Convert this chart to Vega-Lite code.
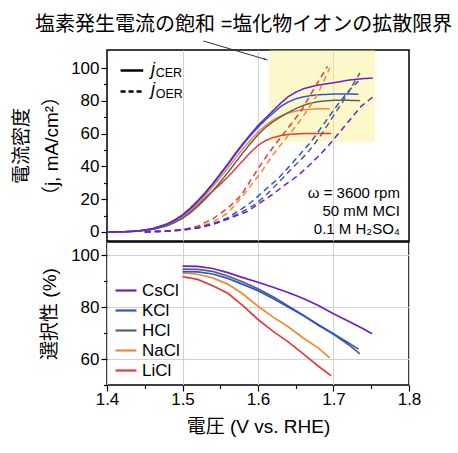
{
  "$schema": "https://vega.github.io/schema/vega-lite/v6.json",
  "padding": {"left": 11, "top": 14, "right": 5, "bottom": 5},
  "title": {
    "text": "塩素発生電流の飽和 =塩化物イオンの拡散限界",
    "fontSize": 20,
    "fontWeight": "normal",
    "color": "#000",
    "anchor": "middle",
    "dx": 27,
    "offset": 5
  },
  "config": {
    "font": "Liberation Sans, Noto Sans CJK JP, sans-serif",
    "view": {"stroke": "#000", "strokeWidth": 1.5},
    "axis": {
      "domain": false,
      "gridColor": "#d2d2d2",
      "gridWidth": 1,
      "tickColor": "#000",
      "tickWidth": 1.2,
      "labelColor": "#000",
      "labelFontSize": 17,
      "labelOverlap": false,
      "titleColor": "#000",
      "titleFontSize": 19,
      "titleFontWeight": "normal"
    },
    "legend": {"labelColor": "#000"}
  },
  "datasets": {
    "current": [
      {"salt": "LiCl", "type": "CER", "V": 1.40, "j": 0},
      {"salt": "LiCl", "type": "CER", "V": 1.42, "j": 0.1},
      {"salt": "LiCl", "type": "CER", "V": 1.44, "j": 0.5},
      {"salt": "LiCl", "type": "CER", "V": 1.46, "j": 1.7},
      {"salt": "LiCl", "type": "CER", "V": 1.48, "j": 4.3},
      {"salt": "LiCl", "type": "CER", "V": 1.49, "j": 6.4},
      {"salt": "LiCl", "type": "CER", "V": 1.50, "j": 9},
      {"salt": "LiCl", "type": "CER", "V": 1.51, "j": 12.5},
      {"salt": "LiCl", "type": "CER", "V": 1.52, "j": 16.5},
      {"salt": "LiCl", "type": "CER", "V": 1.53, "j": 20.8},
      {"salt": "LiCl", "type": "CER", "V": 1.54, "j": 25},
      {"salt": "LiCl", "type": "CER", "V": 1.55, "j": 29},
      {"salt": "LiCl", "type": "CER", "V": 1.56, "j": 33.5},
      {"salt": "LiCl", "type": "CER", "V": 1.57, "j": 38.5},
      {"salt": "LiCl", "type": "CER", "V": 1.58, "j": 43.5},
      {"salt": "LiCl", "type": "CER", "V": 1.59, "j": 48.5},
      {"salt": "LiCl", "type": "CER", "V": 1.60, "j": 52.8},
      {"salt": "LiCl", "type": "CER", "V": 1.61, "j": 55.8},
      {"salt": "LiCl", "type": "CER", "V": 1.62, "j": 57.6},
      {"salt": "LiCl", "type": "CER", "V": 1.63, "j": 58.8},
      {"salt": "LiCl", "type": "CER", "V": 1.64, "j": 59.5},
      {"salt": "LiCl", "type": "CER", "V": 1.65, "j": 59.8},
      {"salt": "LiCl", "type": "CER", "V": 1.66, "j": 60},
      {"salt": "LiCl", "type": "CER", "V": 1.68, "j": 60.1},
      {"salt": "LiCl", "type": "CER", "V": 1.697, "j": 60},
      {"salt": "NaCl", "type": "CER", "V": 1.40, "j": 0},
      {"salt": "NaCl", "type": "CER", "V": 1.42, "j": 0.1},
      {"salt": "NaCl", "type": "CER", "V": 1.44, "j": 0.5},
      {"salt": "NaCl", "type": "CER", "V": 1.46, "j": 1.8},
      {"salt": "NaCl", "type": "CER", "V": 1.48, "j": 4.5},
      {"salt": "NaCl", "type": "CER", "V": 1.49, "j": 6.8},
      {"salt": "NaCl", "type": "CER", "V": 1.50, "j": 9.5},
      {"salt": "NaCl", "type": "CER", "V": 1.51, "j": 13.2},
      {"salt": "NaCl", "type": "CER", "V": 1.52, "j": 17.5},
      {"salt": "NaCl", "type": "CER", "V": 1.53, "j": 22.3},
      {"salt": "NaCl", "type": "CER", "V": 1.54, "j": 27.5},
      {"salt": "NaCl", "type": "CER", "V": 1.55, "j": 33.2},
      {"salt": "NaCl", "type": "CER", "V": 1.56, "j": 39},
      {"salt": "NaCl", "type": "CER", "V": 1.57, "j": 45},
      {"salt": "NaCl", "type": "CER", "V": 1.58, "j": 50.8},
      {"salt": "NaCl", "type": "CER", "V": 1.59, "j": 56},
      {"salt": "NaCl", "type": "CER", "V": 1.60, "j": 61},
      {"salt": "NaCl", "type": "CER", "V": 1.61, "j": 65},
      {"salt": "NaCl", "type": "CER", "V": 1.62, "j": 68.3},
      {"salt": "NaCl", "type": "CER", "V": 1.63, "j": 70.8},
      {"salt": "NaCl", "type": "CER", "V": 1.64, "j": 72.6},
      {"salt": "NaCl", "type": "CER", "V": 1.65, "j": 73.8},
      {"salt": "NaCl", "type": "CER", "V": 1.66, "j": 74.5},
      {"salt": "NaCl", "type": "CER", "V": 1.67, "j": 74.9},
      {"salt": "NaCl", "type": "CER", "V": 1.68, "j": 75.1},
      {"salt": "NaCl", "type": "CER", "V": 1.695, "j": 75.1},
      {"salt": "HCl", "type": "CER", "V": 1.40, "j": 0},
      {"salt": "HCl", "type": "CER", "V": 1.42, "j": 0.1},
      {"salt": "HCl", "type": "CER", "V": 1.44, "j": 0.4},
      {"salt": "HCl", "type": "CER", "V": 1.46, "j": 1.5},
      {"salt": "HCl", "type": "CER", "V": 1.48, "j": 3.8},
      {"salt": "HCl", "type": "CER", "V": 1.49, "j": 5.8},
      {"salt": "HCl", "type": "CER", "V": 1.50, "j": 8.3},
      {"salt": "HCl", "type": "CER", "V": 1.51, "j": 11.5},
      {"salt": "HCl", "type": "CER", "V": 1.52, "j": 15.5},
      {"salt": "HCl", "type": "CER", "V": 1.53, "j": 20},
      {"salt": "HCl", "type": "CER", "V": 1.54, "j": 25},
      {"salt": "HCl", "type": "CER", "V": 1.55, "j": 30.5},
      {"salt": "HCl", "type": "CER", "V": 1.56, "j": 36.3},
      {"salt": "HCl", "type": "CER", "V": 1.57, "j": 42.3},
      {"salt": "HCl", "type": "CER", "V": 1.58, "j": 48.3},
      {"salt": "HCl", "type": "CER", "V": 1.59, "j": 54},
      {"salt": "HCl", "type": "CER", "V": 1.60, "j": 59.3},
      {"salt": "HCl", "type": "CER", "V": 1.61, "j": 63.8},
      {"salt": "HCl", "type": "CER", "V": 1.62, "j": 67.3},
      {"salt": "HCl", "type": "CER", "V": 1.63, "j": 70.2},
      {"salt": "HCl", "type": "CER", "V": 1.64, "j": 72.9},
      {"salt": "HCl", "type": "CER", "V": 1.65, "j": 75.2},
      {"salt": "HCl", "type": "CER", "V": 1.66, "j": 77.2},
      {"salt": "HCl", "type": "CER", "V": 1.67, "j": 78.6},
      {"salt": "HCl", "type": "CER", "V": 1.68, "j": 79.5},
      {"salt": "HCl", "type": "CER", "V": 1.69, "j": 80},
      {"salt": "HCl", "type": "CER", "V": 1.70, "j": 80.3},
      {"salt": "HCl", "type": "CER", "V": 1.72, "j": 80.3},
      {"salt": "HCl", "type": "CER", "V": 1.735, "j": 80.1},
      {"salt": "KCl", "type": "CER", "V": 1.40, "j": 0},
      {"salt": "KCl", "type": "CER", "V": 1.42, "j": 0.1},
      {"salt": "KCl", "type": "CER", "V": 1.44, "j": 0.5},
      {"salt": "KCl", "type": "CER", "V": 1.46, "j": 1.9},
      {"salt": "KCl", "type": "CER", "V": 1.48, "j": 4.8},
      {"salt": "KCl", "type": "CER", "V": 1.49, "j": 7.2},
      {"salt": "KCl", "type": "CER", "V": 1.50, "j": 10.1},
      {"salt": "KCl", "type": "CER", "V": 1.51, "j": 14},
      {"salt": "KCl", "type": "CER", "V": 1.52, "j": 18.5},
      {"salt": "KCl", "type": "CER", "V": 1.53, "j": 23.5},
      {"salt": "KCl", "type": "CER", "V": 1.54, "j": 29},
      {"salt": "KCl", "type": "CER", "V": 1.55, "j": 35},
      {"salt": "KCl", "type": "CER", "V": 1.56, "j": 41},
      {"salt": "KCl", "type": "CER", "V": 1.57, "j": 47.3},
      {"salt": "KCl", "type": "CER", "V": 1.58, "j": 53.3},
      {"salt": "KCl", "type": "CER", "V": 1.59, "j": 58.8},
      {"salt": "KCl", "type": "CER", "V": 1.60, "j": 63.8},
      {"salt": "KCl", "type": "CER", "V": 1.61, "j": 68.5},
      {"salt": "KCl", "type": "CER", "V": 1.62, "j": 72.5},
      {"salt": "KCl", "type": "CER", "V": 1.63, "j": 76.5},
      {"salt": "KCl", "type": "CER", "V": 1.64, "j": 79.3},
      {"salt": "KCl", "type": "CER", "V": 1.65, "j": 81.2},
      {"salt": "KCl", "type": "CER", "V": 1.66, "j": 82.4},
      {"salt": "KCl", "type": "CER", "V": 1.67, "j": 83.2},
      {"salt": "KCl", "type": "CER", "V": 1.68, "j": 83.7},
      {"salt": "KCl", "type": "CER", "V": 1.70, "j": 84.1},
      {"salt": "KCl", "type": "CER", "V": 1.72, "j": 84.2},
      {"salt": "KCl", "type": "CER", "V": 1.733, "j": 84},
      {"salt": "CsCl", "type": "CER", "V": 1.40, "j": 0},
      {"salt": "CsCl", "type": "CER", "V": 1.42, "j": 0.1},
      {"salt": "CsCl", "type": "CER", "V": 1.44, "j": 0.6},
      {"salt": "CsCl", "type": "CER", "V": 1.46, "j": 2},
      {"salt": "CsCl", "type": "CER", "V": 1.48, "j": 5},
      {"salt": "CsCl", "type": "CER", "V": 1.49, "j": 7.5},
      {"salt": "CsCl", "type": "CER", "V": 1.50, "j": 10.5},
      {"salt": "CsCl", "type": "CER", "V": 1.51, "j": 14.5},
      {"salt": "CsCl", "type": "CER", "V": 1.52, "j": 19},
      {"salt": "CsCl", "type": "CER", "V": 1.53, "j": 24},
      {"salt": "CsCl", "type": "CER", "V": 1.54, "j": 29.5},
      {"salt": "CsCl", "type": "CER", "V": 1.55, "j": 35.5},
      {"salt": "CsCl", "type": "CER", "V": 1.56, "j": 41.5},
      {"salt": "CsCl", "type": "CER", "V": 1.57, "j": 48},
      {"salt": "CsCl", "type": "CER", "V": 1.58, "j": 54},
      {"salt": "CsCl", "type": "CER", "V": 1.59, "j": 59.5},
      {"salt": "CsCl", "type": "CER", "V": 1.60, "j": 65},
      {"salt": "CsCl", "type": "CER", "V": 1.61, "j": 69.5},
      {"salt": "CsCl", "type": "CER", "V": 1.62, "j": 74},
      {"salt": "CsCl", "type": "CER", "V": 1.63, "j": 78.5},
      {"salt": "CsCl", "type": "CER", "V": 1.64, "j": 82.5},
      {"salt": "CsCl", "type": "CER", "V": 1.65, "j": 85.3},
      {"salt": "CsCl", "type": "CER", "V": 1.66, "j": 87.3},
      {"salt": "CsCl", "type": "CER", "V": 1.67, "j": 88.6},
      {"salt": "CsCl", "type": "CER", "V": 1.68, "j": 89.6},
      {"salt": "CsCl", "type": "CER", "V": 1.69, "j": 90.3},
      {"salt": "CsCl", "type": "CER", "V": 1.70, "j": 91},
      {"salt": "CsCl", "type": "CER", "V": 1.72, "j": 92.6},
      {"salt": "CsCl", "type": "CER", "V": 1.74, "j": 93.6},
      {"salt": "CsCl", "type": "CER", "V": 1.752, "j": 93.8},
      {"salt": "LiCl", "type": "OER", "V": 1.45, "j": 0},
      {"salt": "LiCl", "type": "OER", "V": 1.48, "j": 0.6},
      {"salt": "LiCl", "type": "OER", "V": 1.50, "j": 1.3},
      {"salt": "LiCl", "type": "OER", "V": 1.52, "j": 3.5},
      {"salt": "LiCl", "type": "OER", "V": 1.54, "j": 8},
      {"salt": "LiCl", "type": "OER", "V": 1.56, "j": 14.5},
      {"salt": "LiCl", "type": "OER", "V": 1.578, "j": 22.5},
      {"salt": "LiCl", "type": "OER", "V": 1.589, "j": 30.6},
      {"salt": "LiCl", "type": "OER", "V": 1.60, "j": 38.5},
      {"salt": "LiCl", "type": "OER", "V": 1.611, "j": 46},
      {"salt": "LiCl", "type": "OER", "V": 1.622, "j": 53},
      {"salt": "LiCl", "type": "OER", "V": 1.634, "j": 60},
      {"salt": "LiCl", "type": "OER", "V": 1.656, "j": 73},
      {"salt": "LiCl", "type": "OER", "V": 1.675, "j": 88},
      {"salt": "LiCl", "type": "OER", "V": 1.692, "j": 101},
      {"salt": "NaCl", "type": "OER", "V": 1.45, "j": 0},
      {"salt": "NaCl", "type": "OER", "V": 1.48, "j": 0.5},
      {"salt": "NaCl", "type": "OER", "V": 1.50, "j": 1.2},
      {"salt": "NaCl", "type": "OER", "V": 1.52, "j": 2.8},
      {"salt": "NaCl", "type": "OER", "V": 1.54, "j": 6},
      {"salt": "NaCl", "type": "OER", "V": 1.56, "j": 11.5},
      {"salt": "NaCl", "type": "OER", "V": 1.585, "j": 25},
      {"salt": "NaCl", "type": "OER", "V": 1.605, "j": 37},
      {"salt": "NaCl", "type": "OER", "V": 1.618, "j": 46},
      {"salt": "NaCl", "type": "OER", "V": 1.635, "j": 56},
      {"salt": "NaCl", "type": "OER", "V": 1.651, "j": 65},
      {"salt": "NaCl", "type": "OER", "V": 1.665, "j": 74},
      {"salt": "NaCl", "type": "OER", "V": 1.68, "j": 85},
      {"salt": "NaCl", "type": "OER", "V": 1.695, "j": 100},
      {"salt": "HCl", "type": "OER", "V": 1.45, "j": 0},
      {"salt": "HCl", "type": "OER", "V": 1.48, "j": 0.5},
      {"salt": "HCl", "type": "OER", "V": 1.50, "j": 1.1},
      {"salt": "HCl", "type": "OER", "V": 1.52, "j": 2.3},
      {"salt": "HCl", "type": "OER", "V": 1.54, "j": 4.5},
      {"salt": "HCl", "type": "OER", "V": 1.56, "j": 8},
      {"salt": "HCl", "type": "OER", "V": 1.58, "j": 12.5},
      {"salt": "HCl", "type": "OER", "V": 1.598, "j": 17.4},
      {"salt": "HCl", "type": "OER", "V": 1.614, "j": 24},
      {"salt": "HCl", "type": "OER", "V": 1.63, "j": 31.5},
      {"salt": "HCl", "type": "OER", "V": 1.645, "j": 38.8},
      {"salt": "HCl", "type": "OER", "V": 1.665, "j": 48},
      {"salt": "HCl", "type": "OER", "V": 1.682, "j": 58},
      {"salt": "HCl", "type": "OER", "V": 1.698, "j": 69.5},
      {"salt": "HCl", "type": "OER", "V": 1.713, "j": 80},
      {"salt": "HCl", "type": "OER", "V": 1.735, "j": 97},
      {"salt": "KCl", "type": "OER", "V": 1.45, "j": 0},
      {"salt": "KCl", "type": "OER", "V": 1.48, "j": 0.5},
      {"salt": "KCl", "type": "OER", "V": 1.50, "j": 1.2},
      {"salt": "KCl", "type": "OER", "V": 1.52, "j": 2.5},
      {"salt": "KCl", "type": "OER", "V": 1.54, "j": 5},
      {"salt": "KCl", "type": "OER", "V": 1.558, "j": 8.2},
      {"salt": "KCl", "type": "OER", "V": 1.578, "j": 14},
      {"salt": "KCl", "type": "OER", "V": 1.589, "j": 17.4},
      {"salt": "KCl", "type": "OER", "V": 1.609, "j": 25.5},
      {"salt": "KCl", "type": "OER", "V": 1.627, "j": 32.7},
      {"salt": "KCl", "type": "OER", "V": 1.638, "j": 38.3},
      {"salt": "KCl", "type": "OER", "V": 1.651, "j": 45},
      {"salt": "KCl", "type": "OER", "V": 1.671, "j": 55.5},
      {"salt": "KCl", "type": "OER", "V": 1.693, "j": 69.7},
      {"salt": "KCl", "type": "OER", "V": 1.706, "j": 77.9},
      {"salt": "KCl", "type": "OER", "V": 1.72, "j": 86},
      {"salt": "KCl", "type": "OER", "V": 1.733, "j": 92},
      {"salt": "CsCl", "type": "OER", "V": 1.45, "j": 0},
      {"salt": "CsCl", "type": "OER", "V": 1.48, "j": 0.6},
      {"salt": "CsCl", "type": "OER", "V": 1.50, "j": 1.5},
      {"salt": "CsCl", "type": "OER", "V": 1.525, "j": 3},
      {"salt": "CsCl", "type": "OER", "V": 1.55, "j": 6.2},
      {"salt": "CsCl", "type": "OER", "V": 1.585, "j": 12.3},
      {"salt": "CsCl", "type": "OER", "V": 1.618, "j": 22.5},
      {"salt": "CsCl", "type": "OER", "V": 1.638, "j": 29.5},
      {"salt": "CsCl", "type": "OER", "V": 1.651, "j": 33.7},
      {"salt": "CsCl", "type": "OER", "V": 1.667, "j": 40.2},
      {"salt": "CsCl", "type": "OER", "V": 1.691, "j": 51.4},
      {"salt": "CsCl", "type": "OER", "V": 1.713, "j": 63.6},
      {"salt": "CsCl", "type": "OER", "V": 1.737, "j": 76.8},
      {"salt": "CsCl", "type": "OER", "V": 1.752, "j": 82.3}
    ],
    "selectivity": [
      {"salt": "LiCl", "V": 1.50, "s": 91.7},
      {"salt": "LiCl", "V": 1.52, "s": 90.6},
      {"salt": "LiCl", "V": 1.54, "s": 88.2},
      {"salt": "LiCl", "V": 1.56, "s": 85.3},
      {"salt": "LiCl", "V": 1.58, "s": 80.5},
      {"salt": "LiCl", "V": 1.60, "s": 75.2},
      {"salt": "LiCl", "V": 1.62, "s": 70.6},
      {"salt": "LiCl", "V": 1.64, "s": 66.6},
      {"salt": "LiCl", "V": 1.66, "s": 62},
      {"salt": "LiCl", "V": 1.68, "s": 57.2},
      {"salt": "LiCl", "V": 1.697, "s": 53.5},
      {"salt": "NaCl", "V": 1.50, "s": 93.1},
      {"salt": "NaCl", "V": 1.52, "s": 92.6},
      {"salt": "NaCl", "V": 1.54, "s": 91.2},
      {"salt": "NaCl", "V": 1.56, "s": 88.8},
      {"salt": "NaCl", "V": 1.58, "s": 85},
      {"salt": "NaCl", "V": 1.60, "s": 80.3},
      {"salt": "NaCl", "V": 1.62, "s": 76.1},
      {"salt": "NaCl", "V": 1.64, "s": 72.4},
      {"salt": "NaCl", "V": 1.66, "s": 68.1},
      {"salt": "NaCl", "V": 1.68, "s": 64.2},
      {"salt": "NaCl", "V": 1.695, "s": 60.4},
      {"salt": "HCl", "V": 1.50, "s": 94.6},
      {"salt": "HCl", "V": 1.52, "s": 94.5},
      {"salt": "HCl", "V": 1.54, "s": 93.7},
      {"salt": "HCl", "V": 1.56, "s": 91.9},
      {"salt": "HCl", "V": 1.58, "s": 89.6},
      {"salt": "HCl", "V": 1.60, "s": 87},
      {"salt": "HCl", "V": 1.62, "s": 83.9},
      {"salt": "HCl", "V": 1.64, "s": 80.4},
      {"salt": "HCl", "V": 1.66, "s": 76.8},
      {"salt": "HCl", "V": 1.68, "s": 73},
      {"salt": "HCl", "V": 1.70, "s": 69.5},
      {"salt": "HCl", "V": 1.72, "s": 65.5},
      {"salt": "HCl", "V": 1.735, "s": 62},
      {"salt": "KCl", "V": 1.50, "s": 93.6},
      {"salt": "KCl", "V": 1.52, "s": 93.5},
      {"salt": "KCl", "V": 1.54, "s": 92.7},
      {"salt": "KCl", "V": 1.56, "s": 91},
      {"salt": "KCl", "V": 1.58, "s": 88.7},
      {"salt": "KCl", "V": 1.60, "s": 86.3},
      {"salt": "KCl", "V": 1.62, "s": 83.3},
      {"salt": "KCl", "V": 1.64, "s": 80},
      {"salt": "KCl", "V": 1.66, "s": 76.7},
      {"salt": "KCl", "V": 1.68, "s": 73.2},
      {"salt": "KCl", "V": 1.70, "s": 69.7},
      {"salt": "KCl", "V": 1.72, "s": 66.2},
      {"salt": "KCl", "V": 1.733, "s": 63.8},
      {"salt": "CsCl", "V": 1.50, "s": 95.7},
      {"salt": "CsCl", "V": 1.52, "s": 95.6},
      {"salt": "CsCl", "V": 1.54, "s": 94.8},
      {"salt": "CsCl", "V": 1.56, "s": 93.2},
      {"salt": "CsCl", "V": 1.58, "s": 91.3},
      {"salt": "CsCl", "V": 1.60, "s": 89.5},
      {"salt": "CsCl", "V": 1.62, "s": 87.6},
      {"salt": "CsCl", "V": 1.64, "s": 85.6},
      {"salt": "CsCl", "V": 1.66, "s": 83.3},
      {"salt": "CsCl", "V": 1.68, "s": 80.6},
      {"salt": "CsCl", "V": 1.70, "s": 77.4},
      {"salt": "CsCl", "V": 1.72, "s": 74.5},
      {"salt": "CsCl", "V": 1.74, "s": 71.5},
      {"salt": "CsCl", "V": 1.751, "s": 69.7}
    ]
  },
  "spacing": -2,
  "resolve": {"legend": {"color": "independent"}},
  "vconcat": [
    {
      "width": 302,
      "height": 191,
      "resolve": {"axis": {"x": "independent", "y": "independent"}},
      "layer": [
        {
          "data": {"values": [{}]},
          "mark": {"type": "rect", "color": "#f7ee7a", "opacity": 0.4},
          "encoding": {
            "x": {"datum": 1.615, "type": "quantitative", "axis": null},
            "x2": {"datum": 1.755},
            "y": {"datum": 55, "type": "quantitative", "axis": null},
            "y2": {"datum": 111}
          }
        },
        {
          "data": {"name": "current"},
          "mark": {"type": "line", "strokeWidth": 1.5},
          "encoding": {
            "x": {
              "field": "V",
              "type": "quantitative",
              "scale": {"domain": [1.4, 1.8], "nice": false, "zero": false},
              "axis": {"orient": "bottom", "values": [1.5, 1.6, 1.7], "labels": false, "ticks": false, "title": null, "grid": true}
            },
            "y": {
              "field": "j",
              "type": "quantitative",
              "scale": {"domain": [-5.5, 111], "nice": false, "zero": false},
              "axis": {
                "orient": "left",
                "values": [0, 10, 20, 30, 40, 50, 60, 70, 80, 90, 100],
                "labelExpr": "indexof(['0', '20', '40', '60', '80', '100'], datum.label) >= 0 ? datum.label : ''",
                "labelOverlap": false,
                "tickSize": {"expr": "indexof(['0', '20', '40', '60', '80', '100'], datum.label) >= 0 ? 6 : 3.5"},
                "gridOpacity": {"expr": "indexof(['0', '20', '40', '60', '80', '100'], datum.label) >= 0 ? 1 : 0"},
                "labelPadding": 2,
                "title": ["電流密度", "（j, mA/cm²）"],
                "titleLineHeight": 30,
                "titlePadding": 9
              }
            },
            "color": {
              "field": "salt",
              "type": "nominal",
              "scale": {"domain": ["CsCl", "KCl", "HCl", "NaCl", "LiCl"], "range": ["#6a1fd0", "#2b53e0", "#606060", "#ee8a35", "#e63b3b"]},
              "legend": null
            },
            "strokeDash": {
              "field": "type",
              "type": "nominal",
              "scale": {"domain": ["CER", "OER"], "range": [[1, 0], [6, 4]]},
              "legend": null
            }
          }
        },
        {
          "data": {"values": [{}]},
          "mark": {"type": "rule", "color": "#000", "strokeWidth": 2.5},
          "encoding": {
            "x": {"datum": 1.418, "type": "quantitative", "axis": null},
            "x2": {"datum": 1.448},
            "y": {"datum": 98.5, "type": "quantitative", "axis": null}
          }
        },
        {
          "data": {"values": [{}]},
          "mark": {"type": "rule", "color": "#000", "strokeWidth": 2.5, "strokeDash": [5, 3]},
          "encoding": {
            "x": {"datum": 1.418, "type": "quantitative", "axis": null},
            "x2": {"datum": 1.448},
            "y": {"datum": 85.7, "type": "quantitative", "axis": null}
          }
        },
        {
          "data": {"values": [{}]},
          "mark": {"type": "text", "align": "left", "baseline": "alphabetic", "fontSize": 18, "fontStyle": "italic"},
          "encoding": {
            "x": {"datum": 1.4583, "type": "quantitative", "axis": null},
            "y": {"datum": 95.9, "type": "quantitative", "axis": null},
            "text": {"value": "j"}
          }
        },
        {
          "data": {"values": [{}]},
          "mark": {"type": "text", "align": "left", "baseline": "alphabetic", "fontSize": 12.5},
          "encoding": {
            "x": {"datum": 1.4645, "type": "quantitative", "axis": null},
            "y": {"datum": 94.5, "type": "quantitative", "axis": null},
            "text": {"value": "CER"}
          }
        },
        {
          "data": {"values": [{}]},
          "mark": {"type": "text", "align": "left", "baseline": "alphabetic", "fontSize": 18, "fontStyle": "italic"},
          "encoding": {
            "x": {"datum": 1.4583, "type": "quantitative", "axis": null},
            "y": {"datum": 83.7, "type": "quantitative", "axis": null},
            "text": {"value": "j"}
          }
        },
        {
          "data": {"values": [{}]},
          "mark": {"type": "text", "align": "left", "baseline": "alphabetic", "fontSize": 12.5},
          "encoding": {
            "x": {"datum": 1.4645, "type": "quantitative", "axis": null},
            "y": {"datum": 81.7, "type": "quantitative", "axis": null},
            "text": {"value": "OER"}
          }
        },
        {
          "data": {"values": [{}]},
          "mark": {"type": "text", "align": "right", "baseline": "middle", "fontSize": 15},
          "encoding": {
            "x": {"datum": 1.788, "type": "quantitative", "axis": null},
            "y": {"datum": 23.7, "type": "quantitative", "axis": null},
            "text": {"value": "ω = 3600 rpm"}
          }
        },
        {
          "data": {"values": [{}]},
          "mark": {"type": "text", "align": "right", "baseline": "middle", "fontSize": 15},
          "encoding": {
            "x": {"datum": 1.788, "type": "quantitative", "axis": null},
            "y": {"datum": 12.9, "type": "quantitative", "axis": null},
            "text": {"value": "50 mM MCI"}
          }
        },
        {
          "data": {"values": [{}]},
          "mark": {"type": "text", "align": "right", "baseline": "middle", "fontSize": 15},
          "encoding": {
            "x": {"datum": 1.788, "type": "quantitative", "axis": null},
            "y": {"datum": 2.1, "type": "quantitative", "axis": null},
            "text": {"value": "0.1 M H₂SO₄"}
          }
        },
        {
          "data": {"values": [{}]},
          "mark": {"type": "rule", "color": "#333", "strokeWidth": 1},
          "encoding": {
            "x": {"datum": 1.5275, "type": "quantitative", "axis": null},
            "y": {"datum": 116.5, "type": "quantitative", "axis": null},
            "x2": {"datum": 1.61},
            "y2": {"datum": 105.3}
          }
        },
        {
          "data": {"values": [{}]},
          "mark": {"type": "point", "shape": "wedge", "filled": true, "size": 45, "angle": 108, "color": "#333", "opacity": 1},
          "encoding": {
            "x": {"datum": 1.61, "type": "quantitative", "axis": null},
            "y": {"datum": 105.3, "type": "quantitative", "axis": null}
          }
        }
      ]
    },
    {
      "width": 302,
      "height": 143,
      "data": {"name": "selectivity"},
      "mark": {"type": "line", "strokeWidth": 1.7},
      "encoding": {
        "x": {
          "field": "V",
          "type": "quantitative",
          "scale": {"domain": [1.4, 1.8], "nice": false, "zero": false},
          "axis": {
            "values": [1.4, 1.45, 1.5, 1.55, 1.6, 1.65, 1.7, 1.75, 1.8],
            "format": ".1f",
            "labelExpr": "abs(datum.value * 10 - round(datum.value * 10)) < 0.001 ? datum.label : ''",
            "labelOverlap": false,
            "tickSize": {"expr": "abs(datum.value * 10 - round(datum.value * 10)) < 0.001 ? 6 : 3.5"},
            "gridOpacity": {"expr": "abs(datum.value * 10 - round(datum.value * 10)) < 0.001 ? 1 : 0"},
            "labelPadding": 0,
            "labelFlush": false,
            "title": "電圧 (V vs. RHE)",
            "titlePadding": 10
          }
        },
        "y": {
          "field": "s",
          "type": "quantitative",
          "scale": {"domain": [50, 105], "nice": false, "zero": false},
          "axis": {
            "values": [50, 60, 70, 80, 90, 100],
            "labelExpr": "datum.value % 20 === 0 ? datum.label : ''",
            "labelOverlap": false,
            "tickSize": {"expr": "datum.value % 20 === 0 ? 6 : 3.5"},
            "gridOpacity": {"expr": "datum.value % 20 === 0 ? 1 : 0"},
            "labelPadding": 2,
            "title": "選択性 (%)",
            "titlePadding": 11
          }
        },
        "color": {
          "field": "salt",
          "type": "nominal",
          "scale": {"domain": ["CsCl", "KCl", "HCl", "NaCl", "LiCl"], "range": ["#6a1fd0", "#2b53e0", "#606060", "#ee8a35", "#e63b3b"]},
          "legend": {
            "orient": "none",
            "legendX": 7,
            "legendY": 36.5,
            "title": null,
            "padding": 0,
            "symbolType": "stroke",
            "symbolSize": 440,
            "symbolStrokeWidth": 2.2,
            "labelFontSize": 17,
            "labelOffset": 4,
            "rowPadding": 0
          }
        }
      }
    }
  ]
}
